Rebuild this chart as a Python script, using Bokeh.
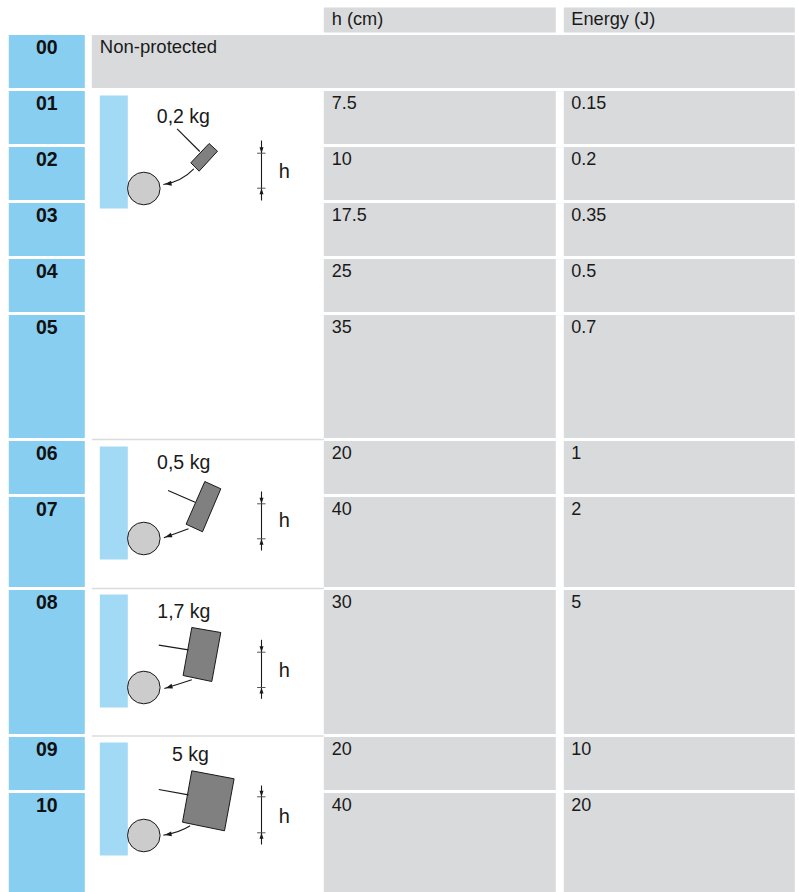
from bokeh.plotting import figure
from bokeh.models import Range1d
from bokeh.core.properties import value
from bokeh.embed import file_html
from bokeh.resources import INLINE

# ---- table content
codes = ["00", "01", "02", "03", "04", "05", "06", "07", "08", "09", "10"]
h_cm = [None, "7.5", "10", "17.5", "25", "35", "20", "40", "30", "20", "40"]
energy_j = [None, "0.15", "0.2", "0.35", "0.5", "0.7", "1", "2", "5", "10", "20"]
headers = ["h (cm)", "Energy (J)"]
non_protected = "Non-protected"
masses = ["0,2 kg", "0,5 kg", "1,7 kg", "5 kg"]

# ---- layout (page pixels)
row_top = [34.5, 90.5, 146.5, 202.5, 258.5, 314.5, 440.5, 496.5, 589.5, 736.5, 792.5]
row_bot = [87.5, 143.5, 199.5, 255.5, 311.5, 437.5, 493.5, 586.5, 733.5, 789.5, 892]
sep_y = [439, 588, 735.5]
wall_top = [95, 446, 594, 742]
ball_y = [188, 538, 687, 835]
label_xy = [(157, 121.7), (157.3, 468.3), (157.5, 617.3), (172.2, 760)]
blocks = [
    ([209.3, 217.7, 199.3, 191], [143, 150.7, 170.7, 162.3]),
    ([205, 221, 202.7, 186.3], [481, 488.3, 531.3, 523.7]),
    ([192, 221, 212, 183.3], [627, 632, 681, 675]),
    ([192, 234.3, 224.7, 182.7], [770.3, 778.3, 830.3, 821.7]),
]
leaders = [
    ((177.3, 128.3), (200, 151)),
    ((168.3, 490), (195.3, 501.7)),
    ((159, 644.7), (188.7, 649.3)),
    ((159, 789), (188.7, 794.3)),
]
# start, control, end of the swing arrow
swings = [
    ((194, 168.3), (182, 181), (163.5, 184)),
    ((188.7, 528.3), (176, 533), (164, 537.3)),
    ((192, 679.3), (178, 684), (164.5, 688)),
    ((190.3, 825.3), (180, 832), (163.5, 834.7)),
]
dims = [(140, 152.7, 187.7, 200), (491, 503.3, 538.3, 550),
        (639.3, 651.7, 687, 698.3), (785, 796.3, 832.3, 844)]
h_mid = [177, 525.5, 675.5, 822]

FONT = value("Liberation Sans")
TXT = "#1a1a1a"
GREY = "#d9dadc"
CODE = "#87cef1"
WALL = "#a2daf5"
SHIFT = -6.5  # the renderer sets alphabetic text lower than its anchor

p = figure(width=799, height=892, x_range=Range1d(0.7, 799.7), y_range=Range1d(892, 0),
           x_axis_location=None, y_axis_location=None, toolbar_location=None,
           output_backend="svg", min_border=0, outline_line_color=None,
           background_fill_color="white", border_fill_color="white")
p.grid.visible = False

# code column
p.quad(left=9, right=85, top=row_top, bottom=row_bot, fill_color=CODE, line_color=None)
p.text(x=47, y=[t + 18.8 + SHIFT for t in row_top], text=codes, text_font=FONT, text_font_size="19.5px",
       text_font_style="bold", text_align="center", text_baseline="alphabetic", text_color="#111111")

# header cells
p.quad(left=[324, 564], right=[556, 795], top=7, bottom=32, fill_color=GREY, line_color=None)
p.text(x=[332, 571.5], y=25 + SHIFT, text=headers, text_font=FONT, text_font_size="18.2px",
       text_baseline="alphabetic", text_color=TXT)

# non protected row
p.quad(left=92, right=795, top=row_top[0], bottom=row_bot[0], fill_color=GREY, line_color=None)
p.text(x=100, y=row_top[0] + 17.8 + SHIFT, text=[non_protected], text_font=FONT, text_font_size="18.5px",
       text_baseline="alphabetic", text_color=TXT)

# value cells
for col_l, col_r, tx, vals in [(324, 556, 332, h_cm), (564, 795, 571.5, energy_j)]:
    p.quad(left=col_l, right=col_r, top=row_top[1:], bottom=row_bot[1:], fill_color=GREY, line_color=None)
    p.text(x=tx, y=[t + 17.5 + SHIFT for t in row_top[1:]], text=vals[1:], text_font=FONT, text_font_size="18px",
           text_baseline="alphabetic", text_color=TXT)

# separators of the diagram column
p.segment(x0=92, x1=324, y0=sep_y, y1=sep_y, line_color="#dcdcdc", line_width=1.5)

# diagrams
for i in range(4):
    p.quad(left=100, right=128, top=wall_top[i], bottom=wall_top[i] + 113, fill_color=WALL, line_color=None)
    p.circle(x=[144], y=[ball_y[i]], radius=16.3, fill_color="#cccccc", line_color="#1a1a1a", line_width=1)
    p.patch(blocks[i][0], blocks[i][1], fill_color="#808080", line_color="#1a1a1a", line_width=1)
    (a, b) = leaders[i]
    p.line([a[0], b[0]], [a[1], b[1]], line_color="#1a1a1a", line_width=1.2)
    s, c, e = swings[i]
    p.quadratic(x0=[s[0]], y0=[s[1]], cx=[c[0]], cy=[c[1]], x1=[e[0]], y1=[e[1]],
                line_color="#1a1a1a", line_width=1.1)
    dx, dy = e[0] - c[0], e[1] - c[1]
    n = (dx * dx + dy * dy) ** 0.5
    ux, uy = dx / n, dy / n
    tip = (e[0] - ux * 1.3, e[1] - uy * 1.3)
    p.patch([tip[0], tip[0] - ux * 7 - uy * 2.5, tip[0] - ux * 7 + uy * 2.5],
            [tip[1], tip[1] - uy * 7 + ux * 2.5, tip[1] - uy * 7 - ux * 2.5],
            fill_color="#1a1a1a", line_color=None)
    t0, t1, t2, t3 = dims[i]
    p.line([261.7, 261.7], [t0, t3], line_color="#1a1a1a", line_width=1.1)
    p.segment(x0=257.3, x1=265.7, y0=[t1, t2], y1=[t1, t2], line_color="#555555", line_width=1)
    p.patch([259.7, 263.7, 261.7], [t1 - 6, t1 - 6, t1], fill_color="#1a1a1a", line_color=None)
    p.patch([259.7, 263.7, 261.7], [t2 + 6, t2 + 6, t2], fill_color="#1a1a1a", line_color=None)
    p.text(x=[279], y=[h_mid[i] + SHIFT], text=["h"], text_font=FONT, text_font_size="20px",
           text_baseline="alphabetic", text_color=TXT)
    p.text(x=[label_xy[i][0]], y=[label_xy[i][1] + SHIFT], text=[masses[i]], text_font=FONT, text_font_size="19.5px",
           text_baseline="alphabetic", text_color=TXT)

open("out.html", "w").write(file_html(p, INLINE))
